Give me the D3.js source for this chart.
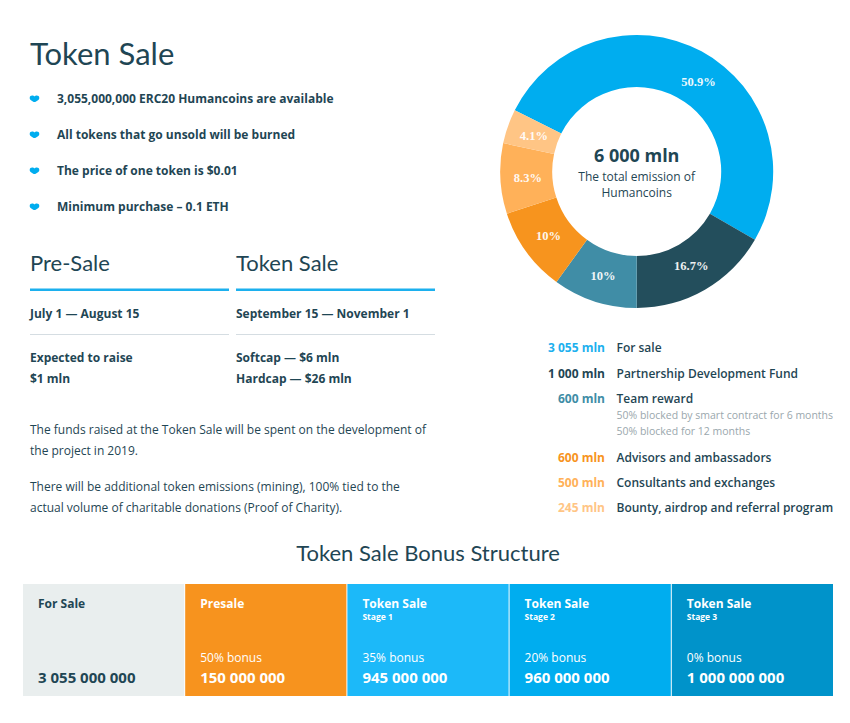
<!DOCTYPE html>
<html>
<head>
<meta charset="utf-8">
<script src="https://d3js.org/d3.v7.min.js"></script>
<style>
  html, body { margin: 0; padding: 0; background: #fff; }
  svg { display: block; }
  text { font-family: "Open Sans", sans-serif; fill: #1f4654; }
  .head { font-family: "Lato", sans-serif; }
  .b { font-weight: 700; }
</style>
</head>
<body>
<div id="chart"></div>
<script>
// donut + legend
var amounts = [3055, 1000, 600, 600, 500, 245];
var percents = ["50.9%", "16.7%", "10%", "10%", "8.3%", "4.1%"];
var amountLabels = ["3 055 mln", "1 000 mln", "600 mln", "600 mln", "500 mln", "245 mln"];
var names = ["For sale", "Partnership Development Fund", "Team reward", "Advisors and ambassadors", "Consultants and exchanges", "Bounty, airdrop and referral program"];
var teamNotes = ["50% blocked by smart contract for 6 months", "50% blocked for 12 months"];
var sliceColors = ["#00adef", "#234e5c", "#408da6", "#f7941e", "#ffb159", "#ffc585"];
var legendColors = ["#1cb0ee", "#1f4654", "#408da6", "#f7941e", "#ffb159", "#ffc585"];

// left column
var bullets = ["3,055,000,000 ERC20 Humancoins are available", "All tokens that go unsold will be burned", "The price of one token is $0.01", "Minimum purchase \u2013 0.1 ETH"];
var saleHeads = ["Pre-Sale", "Token Sale"];
var saleDates = ["July 1 \u2014 August 15", "September 15 \u2014 November 1"];
var saleLine1 = ["Expected to raise", "Softcap \u2014 $6 mln"];
var saleLine2 = ["$1 mln", "Hardcap \u2014 $26 mln"];
var paragraphs = ["The funds raised at the Token Sale will be spent on the development of", "the project in 2019.", "There will be additional token emissions (mining), 100% tied to the", "actual volume of charitable donations (Proof of Charity)."];

// bonus table
var stages = ["For Sale", "Presale", "Token Sale", "Token Sale", "Token Sale"];
var stageSubs = ["", "", "Stage 1", "Stage 2", "Stage 3"];
var bonuses = ["", "50% bonus", "35% bonus", "20% bonus", "0% bonus"];
var tokens = ["3 055 000 000", "150 000 000", "945 000 000", "960 000 000", "1 000 000 000"];
var cardColors = ["#e9eeee", "#f7931e", "#1cb9f9", "#00adef", "#0093ca"];

var svg = d3.select("#chart").append("svg")
    .attr("width", 850)
    .attr("height", 723);

function label(g, x, y, str, size, cls) {
  return g.append("text")
      .attr("x", x)
      .attr("y", y)
      .attr("class", cls || null)
      .style("font-size", size + "px")
      .text(str);
}

// ---- title and bullets
label(svg, 30, 64.5, "Token Sale", 31, "head");

var heart = "M0,-2 C-1.2,-3.6 -4.8,-3.6 -4.8,-0.6 C-4.8,1.6 -2,2.8 0,3.6 C2,2.8 4.8,1.6 4.8,-0.6 C4.8,-3.6 1.2,-3.6 0,-2 Z";
var yBullet = d3.scalePoint().domain(d3.range(bullets.length)).range([99, 207]);

bullets.forEach(function(d, i) {
  svg.append("path")
      .attr("d", heart)
      .attr("transform", "translate(34.5," + (yBullet(i) - 0.5) + ")")
      .attr("fill", "#00adef");
  label(svg, 57, yBullet(i) + 4, d, 12, "b");
});

// ---- pre-sale / token sale columns
var xCol = [30, 236], colWidth = 199;

saleHeads.forEach(function(d, i) {
  label(svg, xCol[i], 271, d, 22, "head");
  svg.append("rect").attr("x", xCol[i]).attr("y", 288.5).attr("width", colWidth).attr("height", 2.5).attr("fill", "#1cb0ee");
  label(svg, xCol[i], 318, saleDates[i], 12, "b");
  svg.append("rect").attr("x", xCol[i]).attr("y", 334).attr("width", colWidth).attr("height", 1).attr("fill", "#d5dde2");
  label(svg, xCol[i], 362, saleLine1[i], 12, "b");
  label(svg, xCol[i], 383, saleLine2[i], 12, "b");
});

var yPara = [434, 455, 491, 512];
paragraphs.forEach(function(d, i) {
  label(svg, 30, yPara[i], d, 12);
});

// ---- donut
var cx = 636.7, cy = 171.5;
var pie = d3.pie().sort(null).startAngle(-63.3 * Math.PI / 180).endAngle(296.7 * Math.PI / 180);
var arc = d3.arc().innerRadius(84.5).outerRadius(136.5);
var labelArc = d3.arc().innerRadius(109).outerRadius(109);
var donut = svg.append("g").attr("transform", "translate(" + cx + "," + cy + ")");
var slices = pie(amounts);

donut.selectAll("path")
    .data(slices)
  .enter().append("path")
    .attr("d", arc)
    .attr("fill", function(d, i) { return sliceColors[i]; });

donut.selectAll("text.pct")
    .data(slices)
  .enter().append("text")
    .attr("class", "pct")
    .attr("transform", function(d, i) {
      // the big slice has its label pushed a bit clockwise
      var shift = i === 0 ? 0.108 : 0;
      var c = labelArc.centroid({startAngle: d.startAngle + shift, endAngle: d.endAngle + shift});
      return "translate(" + c + ")";
    })
    .attr("text-anchor", "middle")
    .attr("dy", "0.35em")
    .style("font-family", '"Liberation Serif", serif')
    .style("font-weight", 700)
    .style("font-size", "12.5px")
    .style("fill", "#fff")
    .style("opacity", 0.92)
    .text(function(d, i) { return percents[i]; });

label(donut, 0, -10, "6 000 mln", 18, "b").attr("text-anchor", "middle");
label(donut, 0, 9, "The total emission of", 12).attr("text-anchor", "middle");
label(donut, 0, 25, "Humancoins", 12).attr("text-anchor", "middle");

// ---- legend
var yLegend = [352, 377.5, 403, 461.5, 487, 512];
names.forEach(function(d, i) {
  label(svg, 605, yLegend[i], amountLabels[i], 12, "b")
      .attr("text-anchor", "end")
      .style("fill", legendColors[i]);
  label(svg, 616.5, yLegend[i], d, 12).style("font-weight", 600);
});
teamNotes.forEach(function(d, i) {
  label(svg, 616.5, 419 + i * 16, d, 10.5).style("fill", "#9aa7ad");
});

// ---- bonus structure
label(svg, 428, 561, "Token Sale Bonus Structure", 22, "head").attr("text-anchor", "middle");

var xCard = d3.scaleBand().domain(d3.range(stages.length)).range([23, 833]).paddingInner(0.006);

stages.forEach(function(d, i) {
  var x = xCard(i), ink = i === 0 ? "#1f4654" : "#fff";
  svg.append("rect")
      .attr("x", x).attr("y", 584)
      .attr("width", xCard.bandwidth()).attr("height", 112)
      .attr("fill", cardColors[i]);
  label(svg, x + 15, 608, d, 12, "b").style("fill", ink);
  if (stageSubs[i]) label(svg, x + 15, 620, stageSubs[i], 8.5, "b").style("fill", ink);
  if (bonuses[i]) label(svg, x + 15, 662, bonuses[i], 12).style("fill", ink);
  label(svg, x + 15, 683, tokens[i], 15, "b").style("fill", ink);
});
</script>
</body>
</html>
